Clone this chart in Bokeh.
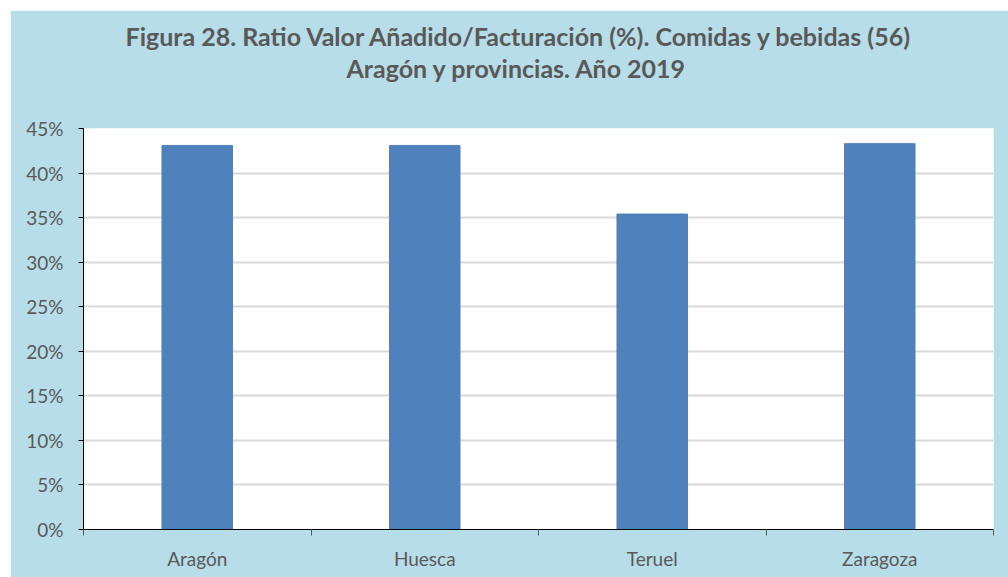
from bokeh.plotting import figure
from bokeh.models import (Range1d, LinearAxis, FixedTicker, PrintfTickFormatter, Grid,
                          ColumnDataSource, Title)
from bokeh.embed import file_html
from bokeh.resources import INLINE

# ---- data ----
categories = ["Aragón", "Huesca", "Teruel", "Zaragoza"]
ratio_pct = [43.1, 43.1, 35.4, 43.3]
y_ticks = [0, 5, 10, 15, 20, 25, 30, 35, 40, 45]
title_line1 = "Figura 28. Ratio Valor Añadido/Facturación (%). Comidas y bebidas (56)"
title_line2 = "Aragón y provincias. Año 2019"

BG = "#b7dde8"
TXT = "#595959"
FONT = "Lato"

n = len(categories)
centers = [i + 0.5 for i in range(n)]
src = ColumnDataSource(dict(x=centers, top=ratio_pct, cat=categories))

p = figure(x_range=Range1d(0, n), y_range=Range1d(0, 45),
           width=998, height=567, frame_width=910, frame_height=401,
           min_border_left=73, min_border_right=15, min_border_top=118, min_border_bottom=48,
           margin=(10, 0, 0, 10),
           output_backend="svg", toolbar_location=None,
           x_axis_location=None, y_axis_location=None)
p.border_fill_color = BG
p.background_fill_color = "white"
p.outline_line_color = None
p.xgrid.visible = False
p.ygrid.visible = False

p.vbar(x="x", top="top", width=0.31, source=src, fill_color="#4f81bd", line_color="#4f81bd")

# y axis
yaxis = LinearAxis(ticker=FixedTicker(ticks=y_ticks, minor_ticks=[]),
                   formatter=PrintfTickFormatter(format="%d%%"))
yaxis.axis_line_color = "black"
yaxis.major_tick_in = 0
yaxis.major_tick_out = 5
yaxis.minor_tick_line_color = None
yaxis.major_tick_line_color = "black"
yaxis.major_label_text_font = FONT
yaxis.major_label_text_font_size = "19px"
yaxis.major_label_text_color = TXT
yaxis.major_label_standoff = 15
p.add_layout(yaxis, "left")

# x axis: labels at category centers, tick marks at category boundaries
xaxis = LinearAxis(ticker=FixedTicker(ticks=centers, minor_ticks=list(range(n + 1))))
xaxis.major_label_overrides = {c: lab for c, lab in zip(centers, categories)}
xaxis.axis_line_color = "black"
xaxis.major_tick_line_color = None
xaxis.major_tick_in = 0
xaxis.major_tick_out = 6
xaxis.minor_tick_in = 0
xaxis.minor_tick_out = 6
xaxis.minor_tick_line_color = "#595959"
xaxis.major_label_text_font = FONT
xaxis.major_label_text_font_size = "19px"
xaxis.major_label_text_color = TXT
xaxis.major_label_standoff = 11
p.add_layout(xaxis, "below")

p.add_layout(Grid(dimension=1, ticker=yaxis.ticker, grid_line_color="#d9d9d9", grid_line_width=2))

# titles (nearest to frame first)
spacer = Title(text=" ", text_font_size="39px", standoff=0)
t2 = Title(text=title_line2, align="left", offset=263, text_font=FONT, text_font_style="bold",
           text_font_size="25px", text_color=TXT, standoff=1)
t1 = Title(text=title_line1, align="left", offset=42, text_font=FONT, text_font_style="bold",
           text_font_size="25px", text_color=TXT, standoff=0)
p.add_layout(spacer, "above")
p.add_layout(t2, "above")
p.add_layout(t1, "above")

open("out.html", "w").write(file_html(p, INLINE))
